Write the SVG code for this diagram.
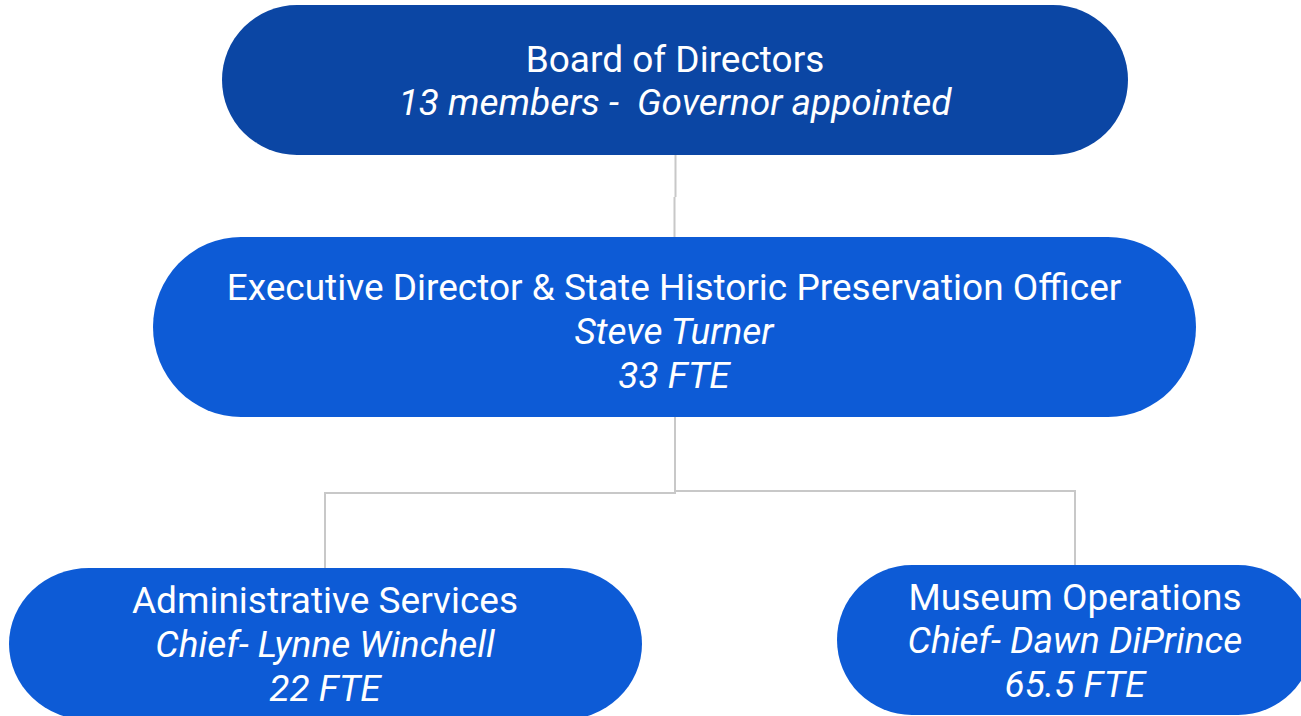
<svg xmlns="http://www.w3.org/2000/svg" width="1301" height="716" viewBox="0 0 1301 716">
  <style>
    .box { fill: #0d5bd6; }
    .top { fill: #0b46a4; }
    .t { font-family: Roboto, "Liberation Sans", sans-serif; fill: #ffffff; text-anchor: middle; font-size: 37px; }
    .i { font-style: italic; }
    .link { fill: none; stroke: #c8c8c8; stroke-width: 2; }
  </style>
  <rect width="1301" height="716" fill="#ffffff"/>

  <!-- reporting lines -->
  <g id="connectors">
    <path class="link" d="M675.5 155 V197 M674.5 197 V237"/>
    <path class="link" d="M675 417 V493 H325 V568"/>
    <path class="link" d="M675 491 H1075 V565"/>
  </g>

  <g id="board">
    <rect class="top" x="222" y="5" width="906" height="150" rx="75" ry="75"/>
    <text class="t" x="675" y="72">Board of Directors</text>
    <text class="t i" x="675" y="115" xml:space="preserve">13 members -  Governor appointed</text>
  </g>

  <g id="executive">
    <rect class="box" x="153" y="237" width="1043" height="180" rx="88" ry="90"/>
    <text class="t" x="674" y="300">Executive Director &amp; State Historic Preservation Officer</text>
    <text class="t i" x="674" y="344">Steve Turner</text>
    <text class="t i" x="674" y="388">33 FTE</text>
  </g>

  <g id="admin">
    <rect class="box" x="9" y="568" width="633" height="152" rx="80" ry="76"/>
    <text class="t" x="325" y="613">Administrative Services</text>
    <text class="t i" x="325" y="657">Chief- Lynne Winchell</text>
    <text class="t i" x="325" y="701">22 FTE</text>
  </g>

  <g id="museum">
    <rect class="box" x="837" y="565" width="476" height="150" rx="75" ry="75"/>
    <text class="t" x="1075" y="610">Museum Operations</text>
    <text class="t i" x="1075" y="653">Chief- Dawn DiPrince</text>
    <text class="t i" x="1075" y="697">65.5 FTE</text>
  </g>
</svg>
